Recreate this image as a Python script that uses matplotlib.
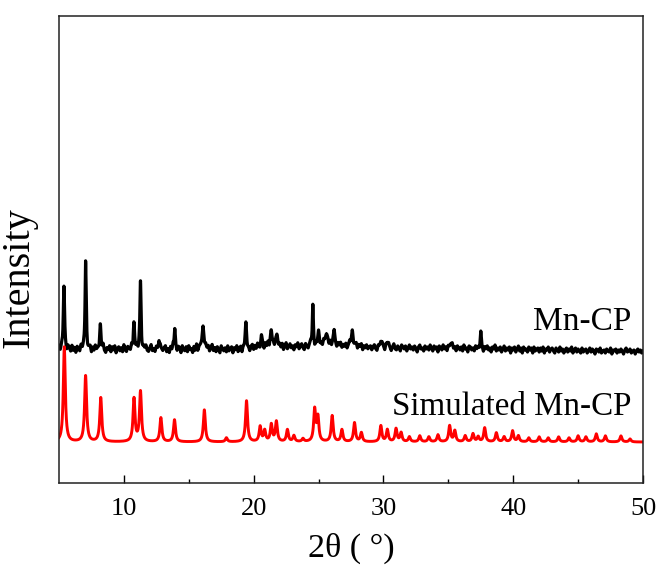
import numpy as np
import matplotlib
matplotlib.use("Agg")
import matplotlib.pyplot as plt

plt.rcParams["font.family"] = ["Liberation Serif", "DejaVu Serif"]

# measured pattern: peak positions (2theta), heights above background, half widths
exp_pos = [5.38, 7.05, 8.18, 10.77, 11.28, 12.70, 13.92, 16.10, 19.40,
           20.60, 21.36, 21.80, 24.56, 25.00, 25.60, 26.20, 27.60, 29.80,
           30.30, 35.20, 37.50]
exp_height = [60, 87, 24, 27, 68, 12, 22, 20, 24,
              10, 18, 12, 42, 12, 14, 12, 15, 8,
              6, 6, 14]
exp_hwhm = [0.06, 0.05, 0.06, 0.06, 0.05, 0.05, 0.05, 0.12, 0.07,
            0.08, 0.08, 0.08, 0.05, 0.08, 0.10, 0.10, 0.10, 0.08,
            0.08, 0.08, 0.05]

# measured background, every 0.1 deg from 5 to 50 (offset from level 134)
exp_bg_step = 0.1
exp_bg_level = 134
exp_bg = [
    2, -3, 1, -2, 4, -1, -4, 2, 0, -3,
    3, -2, 1, -4, 2, 0, -3, 3, -1, 1,
    -2, 4, -3, 0, 2, -4, 1, -2, 3, -1,
    0, -3, 2, -1, 4, -2, -4, 1, -1, 3,
    -3, 2, -1, 3, -4, 0, 2, -2, 1, -3,
    4, -1, -3, 2, 0, -2, 3, -4, 1, -1,
    2, -3, 3, -1, -4, 1, 0, 3, -2, -3,
    1, 4, -2, 0, -3, 2, -1, -4, 3, 0,
    -2, 1, 3, -3, 0, -4, 2, -1, 4, -2,
    0, -3, 2, 1, -4, 3, -1, -2, 2, -3,
    3, -1, 0, -4, 2, -2, 4, -3, 1, 0,
    -2, 3, -4, 1, -1, 2, -3, 0, 4, -2,
    1, -3, 2, -1, -4, 3, 0, -2, 1, -3,
    3, -2, 0, 2, -4, 1, -1, 3, -3, 0,
    2, -4, 1, -1, 3, -2, 0, -3, 2, 4,
    -1, 3, 0, 5, 1, -2, 4, 2, -1, 5,
    2, 6, 0, 3, -1, 4, 1, 6, 2, 0,
    4, 1, 5, -1, 3, 6, 0, 2, 5, 1,
    3, -1, 4, 2, 6, 0, 3, 5, 1, -1,
    5, 2, 0, 4, 6, 1, 3, -1, 4, 2,
    6, 1, 4, 2, 7, 3, 0, 5, 2, 6,
    1, 4, 7, 2, 0, 5, 3, 6, 1, 4,
    2, 5, 0, 3, 6, 1, 4, -1, 3, 5,
    0, 4, 2, 5, -1, 3, 1, 4, 0, 2,
    3, -1, 2, 4, 0, -2, 3, 1, -1, 4,
    2, -2, 3, 0, 4, 1, -2, 2, 5, 0,
    -1, 3, 1, -2, 4, 2, 0, 3, -2, 1,
    4, 0, 2, -1, 3, 1, -3, 2, 4, 0,
    1, -2, 3, 0, 2, -1, 4, 1, -2, 3,
    0, 2, -3, 3, 1, -1, 4, 0, 2, -2,
    3, 1, -1, 4, 0, 2, -2, 3, 1, -1,
    2, -2, 4, 0, 1, -3, 3, 2, -1, 1,
    -2, 3, 0, 2, -1, 4, 1, -3, 2, 0,
    3, -1, 1, -3, 2, 0, 4, -2, 1, -1,
    2, -3, 0, 3, -2, 1, -1, 2, -4, 1,
    -1, 2, -3, 0, 3, -2, 1, -4, 2, -1,
    0, -3, 2, -1, 1, -4, 2, -2, 0, 1,
    -3, 1, -2, 2, -4, 0, -1, 2, -3, 0,
    1, -2, -4, 1, -1, -3, 2, -2, 0, -4,
    -1, 1, -3, 0, -2, 2, -4, -1, 1, -3,
    0, -2, -4, 1, -3, -1, 0, -4, -2, 1,
    -3, 0, -2, -5, 0, -1, -3, 1, -4, -2,
    -1, -4, 0, -2, -3, 1, -5, -1, -2, 0,
    -4, -1, -3, 0, -2, -5, -1, 1, -3, -2,
    0, -4, -2, -1, -5, -2, 0, -3, -1, -4,
    -2,
]

# simulated pattern from the crystal structure
sim_pos = [5.41, 7.05, 8.22, 10.78, 11.28, 12.85, 13.90, 16.20, 17.90,
           19.45, 20.50, 20.85, 21.36, 21.75, 22.60, 23.10, 23.80, 24.70,
           24.95, 26.05, 26.80, 27.77, 28.30, 29.80, 30.30, 30.97, 31.36,
           32.00, 32.80, 33.50, 34.20, 35.10, 35.50, 36.30, 36.90, 37.30,
           37.80, 38.70, 39.30, 39.95, 40.40, 41.20, 42.00, 42.70, 43.50,
           44.30, 45.00, 45.60, 46.40, 47.10, 48.30, 49.00]
sim_height = [95, 66, 44, 43, 50, 24, 22, 32, 4,
              41, 15, 11, 17, 20, 12, 6, 3, 32,
              24, 26, 12, 19, 9, 16, 12, 13, 9,
              5, 6, 5, 7, 16, 11, 6, 8, 5,
              14, 9, 5, 11, 6, 4, 5, 4, 5,
              4, 6, 5, 8, 6, 6, 3]
sim_hwhm = 0.09
sim_level = 41

labels = ["Mn-CP", "Simulated Mn-CP"]


def lorentz_sum(x, pos, height, hwhm):
    y = np.zeros_like(x)
    hw = np.broadcast_to(hwhm, (len(pos),))
    for p, h, w in zip(pos, height, hw):
        y += h * w ** 2 / (w ** 2 + (x - p) ** 2)
    return y


tt = np.arange(5.0, 50.0001, 0.01)

bg_x = 5.0 + exp_bg_step * np.arange(len(exp_bg))
exp_y = exp_bg_level + np.interp(tt, bg_x, exp_bg) + lorentz_sum(
    tt, exp_pos, exp_height, exp_hwhm)
sim_y = sim_level + lorentz_sum(tt, sim_pos, sim_height, sim_hwhm)

fig = plt.figure(figsize=(6.62, 5.66), dpi=100)
ax = fig.add_axes([0.0891, 0.1466, 0.8822, 0.8251])

ax.plot(tt, exp_y, color="black", linewidth=2.3)
ax.plot(tt, sim_y, color="#ff0000", linewidth=2.1)

ax.text(49.1, 153, labels[0], ha="right", va="baseline", fontsize=24)
ax.text(49.1, 68, labels[1], ha="right", va="baseline", fontsize=23.8)

ax.set_xlim(5, 50)
ax.set_ylim(0, 467)
ax.set_xticks([10, 20, 30, 40, 50])
ax.set_xticks([15, 25, 35, 45], minor=True)
ax.set_yticks([])
ax.tick_params(axis="x", which="major", direction="in", length=5.5,
               width=1.0, labelsize=19, pad=11)
ax.tick_params(axis="x", which="minor", direction="in", length=3.2, width=1.0)
for sp in ax.spines.values():
    sp.set_linewidth(1.1)
    sp.set_color("#222222")

ax.set_xlabel("2θ ( °)", fontsize=24.5, labelpad=9)
ax.set_ylabel("Intensity", fontsize=29)
ax.yaxis.set_label_coords(-0.036, 0.44)

fig.savefig("out.png", dpi=100)
